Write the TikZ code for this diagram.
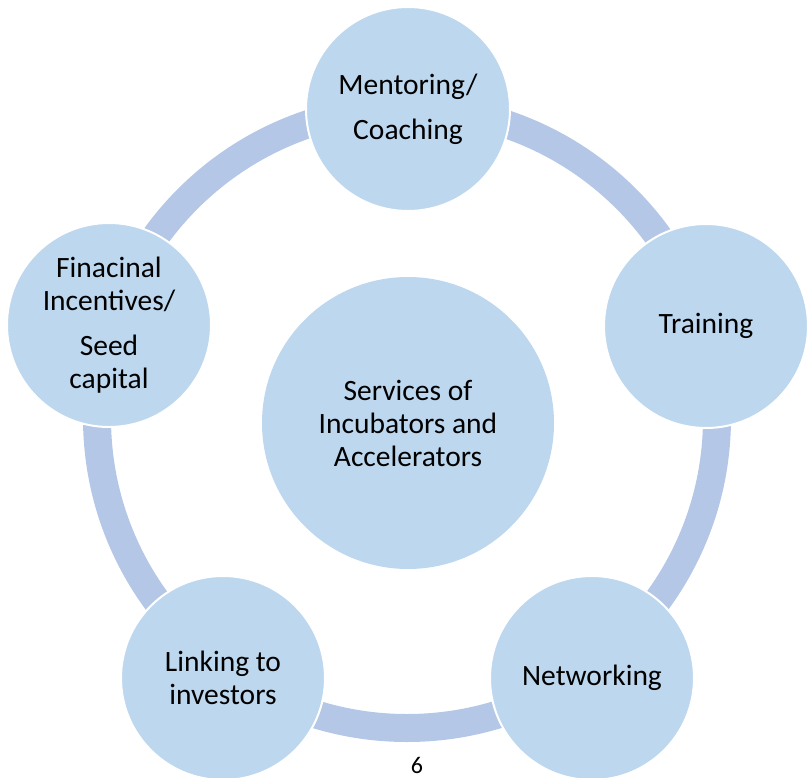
\documentclass[tikz,border=0pt]{standalone}
\usepackage{fontspec}
\setmainfont{Carlito}
\definecolor{circfill}{HTML}{BDD7EE}
\definecolor{bandcol}{HTML}{B4C7E7}
\begin{document}
\begin{tikzpicture}[x=1pt,y=-1pt,
  item/.style={circle, fill=circfill, draw=white, line width=2pt,
    minimum size=204pt, inner sep=0pt, align=center,
    font=\fontsize{29.5}{33}\selectfont, text=black},
  hub/.style={item, minimum size=292pt, draw=none},
  ring/.style={draw=bandcol, line width=28pt}]
\useasboundingbox (0,0) rectangle (808,778);
\coordinate (ringc) at (407,418);
\draw[ring] (ringc) circle[radius=310pt];
\node[hub] (hub) at (408,423) {Services of\\Incubators and\\Accelerators};
\node[item] (ment) at (408,109) {Mentoring/\\[12pt]Coaching};
\node[item] (train) at (706,326) {Training};
\node[item] (net) at (592,678) {Networking};
\node[item] (link) at (223,678) {Linking to\\investors};
\node[item] (fin) at (109,325) {Finacinal\\Incentives/\\[12pt]Seed\\capital};
\node[font=\fontsize{24}{28}\selectfont, inner sep=0pt] (page) at (417,765) {6};
\end{tikzpicture}
\end{document}
